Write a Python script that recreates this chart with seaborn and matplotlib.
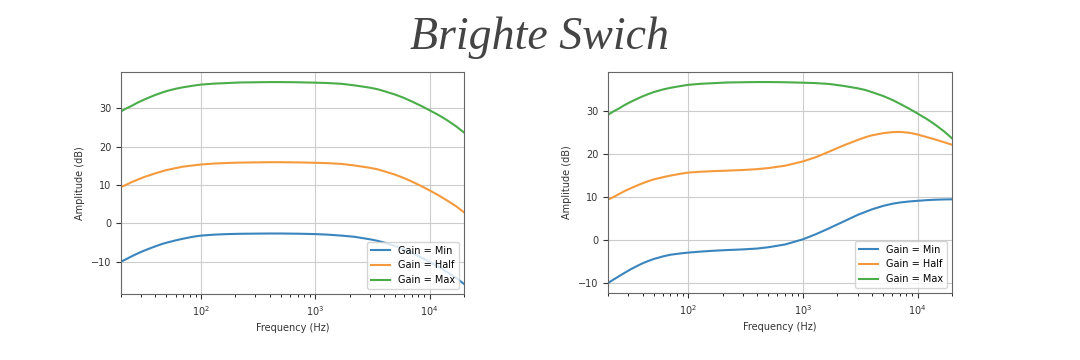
import pandas as pd
import numpy as np
import matplotlib.pyplot as plt
import seaborn as sbs

freq = [20, 22, 25, 28, 32, 36, 40, 45, 50, 60, 70, 85, 100, 130, 170, 220, 300, 400,
        500, 700, 1000, 1300, 1700, 2200, 3000, 3500, 4000, 5000, 6000, 7000, 8500,
        10000, 12000, 14000, 17000, 20000]

# left panel
left_min = [-10.0, -9.4, -8.55, -7.85, -7.1, -6.5, -6.0, -5.45, -5.05, -4.45, -4.0, -3.5,
            -3.2, -2.95, -2.8, -2.72, -2.68, -2.65, -2.65, -2.7, -2.8, -2.95, -3.2, -3.5,
            -4.15, -4.55, -5.0, -5.9, -6.85, -7.7, -8.95, -10.05, -11.35, -12.55, -14.2, -15.8]
left_half = [9.5, 10.0, 10.8, 11.4, 12.1, 12.6, 13.05, 13.5, 13.9, 14.4, 14.8, 15.1,
             15.35, 15.6, 15.75, 15.85, 15.9, 15.95, 15.95, 15.9, 15.8, 15.7, 15.5, 15.1,
             14.5, 14.1, 13.6, 12.7, 11.8, 10.9, 9.7, 8.6, 7.3, 6.1, 4.5, 2.9]
left_max = [29.2, 29.9, 30.7, 31.5, 32.3, 32.95, 33.5, 34.05, 34.5, 35.1, 35.5, 35.9,
            36.2, 36.45, 36.6, 36.75, 36.8, 36.85, 36.85, 36.8, 36.7, 36.6, 36.4, 36.0,
            35.4, 35.0, 34.5, 33.6, 32.7, 31.8, 30.6, 29.5, 28.25, 27.05, 25.35, 23.7]

# right panel
right_min = [-10.1, -9.4, -8.5, -7.7, -6.8, -6.1, -5.5, -4.95, -4.5, -3.9, -3.5, -3.2,
             -3.0, -2.75, -2.55, -2.4, -2.25, -2.05, -1.75, -1.1, 0.1, 1.3, 2.7, 4.1,
             5.8, 6.5, 7.1, 7.9, 8.4, 8.7, 8.95, 9.1, 9.25, 9.35, 9.42, 9.45]
right_half = [9.4, 9.9, 10.7, 11.4, 12.1, 12.7, 13.2, 13.7, 14.1, 14.6, 15.0, 15.4,
              15.7, 15.9, 16.05, 16.15, 16.3, 16.5, 16.75, 17.3, 18.3, 19.3, 20.6, 21.9,
              23.3, 23.95, 24.4, 24.9, 25.15, 25.2, 25.0, 24.6, 24.0, 23.5, 22.8, 22.2]
right_max = left_max

gains = ['Gain = Min', 'Gain = Half', 'Gain = Max']


def make_df(mn, hf, mx):
    parts = []
    for g, vals in zip(gains, [mn, hf, mx]):
        parts.append(pd.DataFrame({'freq': freq, 'amp': vals, 'gain': g}))
    return pd.concat(parts, ignore_index=True)


dfl = make_df(left_min, left_half, left_max)
dfr = make_df(right_min, right_half, right_max)

fig = plt.figure(figsize=(10.8, 3.6), dpi=100)
fig.text(0.5, 0.895, 'Brighte Swich', ha='center', va='center', fontsize=33,
         family='Liberation Serif', style='italic', color='#444444')

pal = ['#3a85bd', '#f59a3c', '#4aad4a']
for rect, d in [([0.112, 0.1833, 0.3176, 0.6167], dfl),
                ([0.563, 0.186, 0.3185, 0.614], dfr)]:
    ax = fig.add_axes(rect)
    sbs.lineplot(data=d, x='freq', y='amp', hue='gain', palette=pal, ax=ax, linewidth=1.5)
    ax.set_xscale('log')
    ax.set_xlim(20, 20000)
    ax.grid(True, which='major', color='#cccccc', linewidth=0.8)
    ax.set_xlabel('Frequency (Hz)', fontsize=7, color='#333333')
    ax.set_ylabel('Amplitude (dB)', fontsize=7, color='#333333')
    ax.tick_params(labelsize=7, colors='#333333')
    for s in ax.spines.values():
        s.set_color('#666666')
    ax.legend(loc='lower right', fontsize=7, title=None)

plt.savefig('out.png', dpi=100)
